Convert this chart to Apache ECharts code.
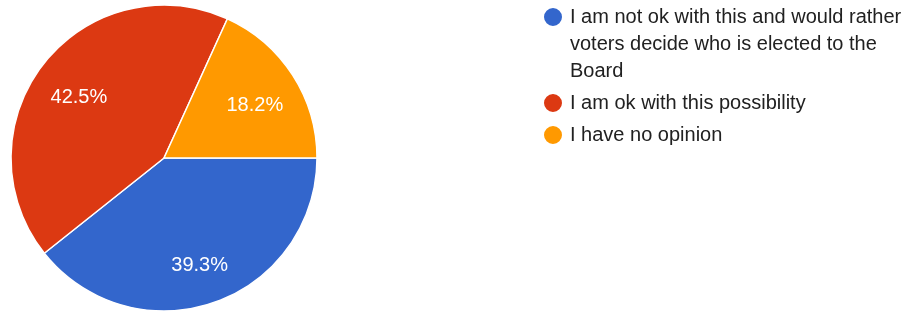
<!DOCTYPE html>
<html>
<head>
<meta charset="utf-8">
<script src="https://cdn.jsdelivr.net/npm/echarts@6/dist/echarts.min.js"></script>
<style>
html,body{margin:0;padding:0;background:#fff;}
#chart{width:919px;height:312px;}
</style>
</head>
<body>
<div id="chart"></div>
<script>
const categories = [
  'I am not ok with this and would rather voters decide who is elected to the Board',
  'I am ok with this possibility',
  'I have no opinion'
];
const values = [39.3, 42.5, 18.2];
const colors = ['#3366CC', '#DC3912', '#FF9900'];

const chart = echarts.init(document.getElementById('chart'));
const LINE_H = 27;
const FONT = 'Liberation Sans, Arial, sans-serif';
const pieData = categories.map((c, i) => ({ name: c, value: values[i], itemStyle: { color: colors[i] } }));
const labelData = categories.map((c, i) => ({ name: c, value: values[i] }));

// icon for a 3-line legend entry: circle aligned with the first text line
const tallIcon = 'path://M0 0L0 0M24 81L24 81M2 13.5A10 10 0 1 0 22 13.5A10 10 0 1 0 2 13.5Z';

const legendText = {
  fontFamily: FONT,
  fontSize: 20,
  color: '#212121',
  lineHeight: LINE_H,
  width: 350,
  overflow: 'break'
};

chart.setOption({
  animation: false,
  backgroundColor: '#ffffff',
  legend: [
    {
      orient: 'vertical',
      left: 540,
      top: 2.5,
      padding: 0,
      itemWidth: 24,
      itemHeight: 81,
      icon: tallIcon,
      selectedMode: false,
      data: [categories[0]],
      textStyle: legendText
    },
    {
      orient: 'vertical',
      left: 542,
      top: 89.5,
      padding: 0,
      itemGap: 5,
      itemWidth: 24,
      itemHeight: 20,
      icon: 'circle',
      selectedMode: false,
      data: categories.slice(1),
      textStyle: legendText
    }
  ],
  series: [
    {
      type: 'pie',
      center: [164, 158],
      radius: [0, 153],
      startAngle: 0,
      clockwise: true,
      silent: true,
      label: { show: false },
      labelLine: { show: false },
      itemStyle: { borderColor: '#ffffff', borderWidth: 1.5 },
      emphasis: { disabled: true },
      data: pieData
    },
    {
      type: 'pie',
      center: [164, 158],
      radius: [57, 153],
      startAngle: 0,
      clockwise: true,
      silent: true,
      avoidLabelOverlap: false,
      itemStyle: { color: 'rgba(0,0,0,0)', borderWidth: 0 },
      emphasis: { disabled: true },
      label: {
        show: true,
        position: 'inside',
        formatter: '{c}%',
        color: '#ffffff',
        fontSize: 20,
        fontFamily: FONT,
        offset: [0, 6]
      },
      labelLine: { show: false },
      data: labelData
    }
  ]
});
</script>
</body>
</html>
